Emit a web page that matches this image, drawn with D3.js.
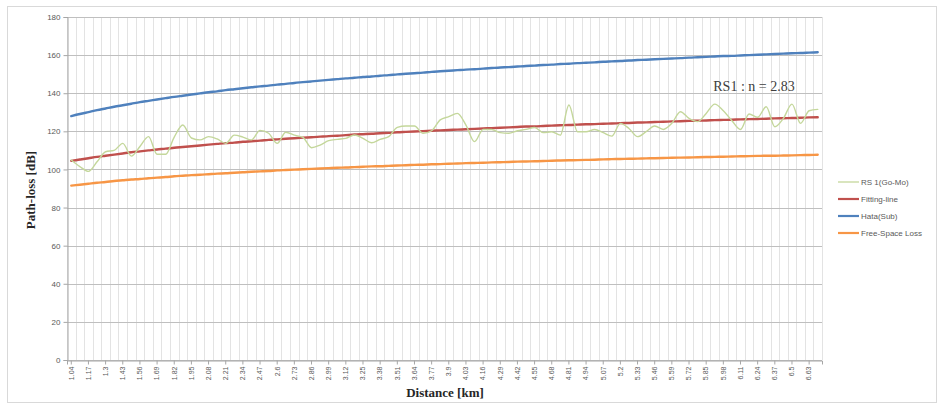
<!DOCTYPE html>
<html><head><meta charset="utf-8">
<script src="https://cdn.jsdelivr.net/npm/d3@7/dist/d3.min.js"></script>
<style>body{margin:0;background:#fff;}svg{display:block;}</style>
</head><body>
<svg id="c" width="944" height="407"></svg>
<script>
const categories = ["1.04","1.105","1.17","1.235","1.3","1.365","1.43","1.495","1.56","1.625","1.69","1.755","1.82","1.885","1.95","2.015","2.08","2.145","2.21","2.275","2.34","2.405","2.47","2.535","2.6","2.665","2.73","2.795","2.86","2.925","2.99","3.055","3.12","3.185","3.25","3.315","3.38","3.445","3.51","3.575","3.64","3.705","3.77","3.835","3.9","3.965","4.03","4.095","4.16","4.225","4.29","4.355","4.42","4.485","4.55","4.615","4.68","4.745","4.81","4.875","4.94","5.005","5.07","5.135","5.2","5.265","5.33","5.395","5.46","5.525","5.59","5.655","5.72","5.785","5.85","5.915","5.98","6.045","6.11","6.175","6.24","6.305","6.37","6.435","6.5","6.565","6.63","6.695"];

const rs1 = [105,101.5,99,104,109.3,110,113.7,107,112,117.2,108,108,117,123.3,116.5,115.5,117.2,116,113.7,118,117,115.5,120.5,119,113.7,119.5,118,116.8,111.4,112.8,115.1,115.8,116.3,118.1,116.3,114,115.8,117.2,122.1,122.8,122.8,119,120.3,126,127.7,129.4,123.3,114.6,121,121,119.3,119,120.3,121,122,119.3,119.8,118,133.8,119.8,119.8,121,119.3,117.5,124.2,121.5,117.2,119.8,122.8,121,124.2,130.3,126.8,125.1,129.4,134.3,130.8,125.6,121,129.1,127.4,132.9,122.4,126.8,134.3,124.2,130.8,131.5];

const fitting = [104.5,105.2,105.9,106.6,107.2,107.8,108.4,109.0,109.5,110.0,110.5,110.9,111.4,111.8,112.2,112.6,113.0,113.4,113.8,114.1,114.5,114.8,115.1,115.5,115.8,116.1,116.4,116.7,116.9,117.2,117.5,117.7,118.0,118.3,118.5,118.7,119.0,119.2,119.5,119.7,119.9,120.1,120.3,120.5,120.7,120.9,121.1,121.3,121.5,121.7,121.9,122.1,122.3,122.5,122.6,122.8,123.0,123.2,123.3,123.5,123.7,123.8,124.0,124.1,124.3,124.4,124.6,124.7,124.9,125.0,125.2,125.3,125.5,125.6,125.7,125.9,126.0,126.1,126.3,126.4,126.5,126.6,126.8,126.9,127.0,127.1,127.3,127.4];

const hata = [128.0,129.1,130.1,131.1,132.0,132.9,133.7,134.5,135.3,136.0,136.7,137.4,138.1,138.7,139.3,139.9,140.5,141.0,141.6,142.1,142.6,143.1,143.6,144.0,144.5,144.9,145.4,145.8,146.2,146.6,147.0,147.4,147.8,148.1,148.5,148.8,149.2,149.5,149.9,150.2,150.5,150.8,151.2,151.5,151.8,152.1,152.4,152.6,152.9,153.2,153.5,153.7,154.0,154.3,154.5,154.8,155.0,155.3,155.5,155.8,156.0,156.2,156.5,156.7,156.9,157.2,157.4,157.6,157.8,158.0,158.2,158.4,158.7,158.9,159.1,159.3,159.5,159.6,159.8,160.0,160.2,160.4,160.6,160.8,161.0,161.1,161.3,161.5];

const freeSpace = [91.5,92.0,92.5,93.0,93.4,93.9,94.3,94.7,95.0,95.4,95.7,96.0,96.4,96.7,97.0,97.2,97.5,97.8,98.0,98.3,98.5,98.8,99.0,99.2,99.5,99.7,99.9,100.1,100.3,100.5,100.7,100.9,101.0,101.2,101.4,101.6,101.7,101.9,102.1,102.2,102.4,102.5,102.7,102.8,103.0,103.1,103.3,103.4,103.5,103.7,103.8,103.9,104.1,104.2,104.3,104.4,104.6,104.7,104.8,104.9,105.0,105.1,105.3,105.4,105.5,105.6,105.7,105.8,105.9,106.0,106.1,106.2,106.3,106.4,106.5,106.6,106.7,106.8,106.9,107.0,107.1,107.2,107.2,107.3,107.4,107.5,107.6,107.7];

const yTicks = [0,20,40,60,80,100,120,140,160,180];
const seriesNames = ["RS 1(Go-Mo)","Fitting-line","Hata(Sub)","Free-Space Loss"];
const seriesColors = ["#c4d79b","#c0504d","#4f81bd","#f79646"];
const annotation = "RS1 : n = 2.83";

const svg = d3.select("#c");
const L = 67, R = 822, T = 17, B = 360;

// outer frame
svg.append("rect").attr("x",7.5).attr("y",6.5).attr("width",929).attr("height",396)
  .attr("fill","#fff").attr("stroke","#d9d9d9").attr("stroke-width",1);

const x = d3.scaleBand().domain(d3.range(categories.length)).range([L,R]).padding(0);
const cx = i => x(i) + x.bandwidth()/2;
const y = d3.scaleLinear().domain([0,180]).range([B,T]);

// vertical gridlines (category boundaries)
svg.append("g").selectAll("line").data(d3.range(categories.length+1)).join("line")
  .attr("x1", i => Math.round(L + i*x.bandwidth())+0.5)
  .attr("x2", i => Math.round(L + i*x.bandwidth())+0.5)
  .attr("y1", T).attr("y2", B)
  .attr("stroke","#e3e3e3").attr("stroke-width",1);

// horizontal gridlines
svg.append("g").selectAll("line").data(yTicks).join("line")
  .attr("x1", L).attr("x2", R)
  .attr("y1", d => Math.round(y(d))+0.5).attr("y2", d => Math.round(y(d))+0.5)
  .attr("stroke","#bfbfbf").attr("stroke-width",1);

// y axis
const yAxis = svg.append("g").attr("transform",`translate(${L+0.5},0)`)
  .call(d3.axisLeft(y).tickValues(yTicks).tickSize(4).tickFormat(d3.format("d")));
yAxis.select(".domain").attr("stroke","#a6a6a6");
yAxis.selectAll(".tick line").attr("stroke","#a6a6a6");
yAxis.selectAll("text").attr("font-family","Liberation Sans, Arial, sans-serif")
  .attr("font-size","8px").attr("fill","#595959");

// x axis
const evenIdx = d3.range(0, categories.length, 2);
const xAxis = svg.append("g").attr("transform",`translate(0,${B+0.5})`)
  .call(d3.axisBottom(x).tickValues(evenIdx).tickSize(4).tickFormat(i => categories[i]));
xAxis.select(".domain").attr("stroke","#a6a6a6");
xAxis.selectAll(".tick line").attr("stroke","#a6a6a6");
xAxis.selectAll("text")
  .attr("font-family","Liberation Sans, Arial, sans-serif").attr("font-size","7px").attr("fill","#595959")
  .attr("transform","rotate(-90)").attr("text-anchor","end")
  .attr("x",-6).attr("y",0).attr("dy","0.33em");

// lines
const line = d3.line().x((d,i) => cx(i)).y(d => y(d)).curve(d3.curveMonotoneX);
const allSeries = [rs1, fitting, hata, freeSpace];
const widths = [1.4, 2.4, 2.4, 2.4];
const order = [3,2,1,0];
order.forEach(s => {
  svg.append("path").datum(allSeries[s]).attr("d", line)
    .attr("fill","none").attr("stroke",seriesColors[s]).attr("stroke-width",widths[s])
    .attr("stroke-linejoin","round").attr("stroke-linecap","round");
});

// annotation
svg.append("text").attr("x",754).attr("y",91).attr("text-anchor","middle")
  .attr("font-family","Liberation Serif, Times New Roman, serif").attr("font-size","14px")
  .attr("fill","#404040").text(annotation);

// legend
const lg = svg.append("g");
const legY = [182, 199, 216, 233];
seriesNames.forEach((n,i) => {
  lg.append("line").attr("x1",838).attr("x2",859).attr("y1",legY[i]).attr("y2",legY[i])
    .attr("stroke",seriesColors[i]).attr("stroke-width", i===0 ? 1.3 : 2.2);
  lg.append("text").attr("x",861).attr("y",legY[i]).attr("dy","0.35em")
    .attr("font-family","Liberation Sans, Arial, sans-serif").attr("font-size","8px")
    .attr("fill","#595959").text(n);
});

// axis titles
svg.append("text").attr("transform","translate(35,190) rotate(-90)").attr("text-anchor","middle")
  .attr("font-family","Liberation Serif, Times New Roman, serif").attr("font-weight","bold")
  .attr("font-size","13px").attr("fill","#262626").text("Path-loss [dB]");
svg.append("text").attr("x",445).attr("y",397).attr("text-anchor","middle")
  .attr("font-family","Liberation Serif, Times New Roman, serif").attr("font-weight","bold")
  .attr("font-size","13px").attr("fill","#262626").text("Distance [km]");
</script>
</body></html>
